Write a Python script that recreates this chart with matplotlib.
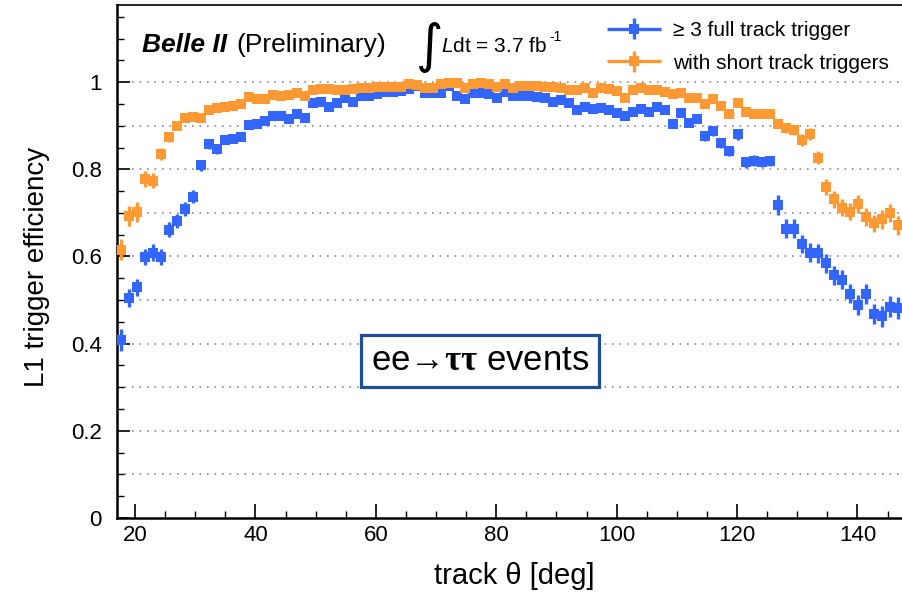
import numpy as np
import matplotlib
matplotlib.use('Agg')
import matplotlib.pyplot as plt
from matplotlib.ticker import MultipleLocator
from matplotlib.container import ErrorbarContainer
from matplotlib.legend_handler import HandlerErrorbar

# Helvetica-like fonts
plt.rcParams['font.family'] = ['Liberation Sans', 'DejaVu Sans']
plt.rcParams['mathtext.fontset'] = 'custom'
plt.rcParams['mathtext.rm'] = 'Liberation Sans'
plt.rcParams['mathtext.it'] = 'Liberation Sans:italic'
plt.rcParams['mathtext.bf'] = 'Liberation Serif:bold'
plt.rcParams['figure.dpi'] = 100

# histogram binning in track theta [deg]
theta_min = 17.0
bin_width = 1.33

# >= 3 full track trigger
eff_full = [0.409, 0.505, 0.529, 0.599, 0.609, 0.599, 0.661, 0.682, 0.710, 0.737,
            0.809, 0.857, 0.846, 0.868, 0.869, 0.873, 0.902, 0.905, 0.910, 0.923,
            0.922, 0.915, 0.926, 0.917, 0.953, 0.954, 0.944, 0.953, 0.964, 0.954,
            0.969, 0.969, 0.973, 0.977, 0.977, 0.979, 0.985, 0.991, 0.976, 0.976,
            0.976, 0.991, 0.969, 0.962, 0.974, 0.974, 0.973, 0.964, 0.977, 0.968,
            0.968, 0.969, 0.966, 0.963, 0.954, 0.960, 0.953, 0.936, 0.944, 0.939,
            0.941, 0.935, 0.930, 0.922, 0.931, 0.939, 0.932, 0.944, 0.935, 0.905,
            0.930, 0.907, 0.916, 0.876, 0.888, 0.861, 0.842, 0.880, 0.816, 0.820,
            0.817, 0.819, 0.718, 0.664, 0.664, 0.628, 0.609, 0.607, 0.584, 0.557,
            0.547, 0.515, 0.489, 0.515, 0.468, 0.463, 0.485, 0.482]
err_full = [0.025, 0.020, 0.020, 0.019, 0.019, 0.019, 0.017, 0.016, 0.016, 0.015,
            0.012, 0.011, 0.011, 0.009, 0.008, 0.008, 0.008, 0.008, 0.008, 0.007,
            0.007, 0.007, 0.007, 0.007, 0.006, 0.006, 0.006, 0.006, 0.005, 0.005,
            0.005, 0.005, 0.005, 0.005, 0.005, 0.005, 0.005, 0.005, 0.005, 0.005,
            0.005, 0.005, 0.005, 0.005, 0.005, 0.005, 0.005, 0.005, 0.005, 0.005,
            0.005, 0.005, 0.005, 0.005, 0.006, 0.006, 0.006, 0.006, 0.006, 0.006,
            0.006, 0.006, 0.006, 0.007, 0.007, 0.007, 0.007, 0.007, 0.008, 0.010,
            0.010, 0.010, 0.010, 0.011, 0.011, 0.011, 0.012, 0.012, 0.012, 0.012,
            0.012, 0.012, 0.022, 0.021, 0.021, 0.021, 0.021, 0.021, 0.022, 0.022,
            0.022, 0.022, 0.023, 0.023, 0.024, 0.024, 0.024, 0.025]

# with short track triggers
eff_short = [0.616, 0.692, 0.703, 0.778, 0.774, 0.836, 0.874, 0.899, 0.917, 0.921,
             0.918, 0.937, 0.940, 0.943, 0.946, 0.951, 0.966, 0.961, 0.961, 0.971,
             0.969, 0.970, 0.975, 0.969, 0.981, 0.985, 0.985, 0.982, 0.983, 0.984,
             0.986, 0.986, 0.989, 0.989, 0.990, 0.990, 0.995, 0.993, 0.987, 0.987,
             0.995, 0.998, 0.997, 0.987, 0.995, 0.997, 0.995, 0.989, 0.996, 0.987,
             0.991, 0.991, 0.991, 0.989, 0.989, 0.987, 0.982, 0.983, 0.987, 0.976,
             0.987, 0.985, 0.979, 0.964, 0.982, 0.987, 0.982, 0.982, 0.977, 0.972,
             0.974, 0.964, 0.964, 0.949, 0.962, 0.945, 0.926, 0.953, 0.932, 0.926,
             0.926, 0.928, 0.905, 0.894, 0.890, 0.868, 0.881, 0.827, 0.760, 0.731,
             0.712, 0.703, 0.720, 0.691, 0.676, 0.685, 0.700, 0.672]
err_short = [0.025, 0.023, 0.023, 0.018, 0.018, 0.014, 0.011, 0.009, 0.008, 0.007,
             0.007, 0.006, 0.006, 0.006, 0.006, 0.005, 0.005, 0.005, 0.005, 0.004,
             0.004, 0.004, 0.004, 0.004, 0.004, 0.004, 0.004, 0.004, 0.004, 0.004,
             0.004, 0.004, 0.004, 0.004, 0.004, 0.004, 0.004, 0.004, 0.004, 0.004,
             0.004, 0.004, 0.004, 0.004, 0.004, 0.004, 0.004, 0.004, 0.004, 0.004,
             0.004, 0.004, 0.004, 0.004, 0.004, 0.004, 0.004, 0.004, 0.004, 0.004,
             0.004, 0.004, 0.004, 0.005, 0.005, 0.005, 0.005, 0.005, 0.005, 0.006,
             0.006, 0.006, 0.006, 0.007, 0.007, 0.008, 0.008, 0.008, 0.009, 0.009,
             0.009, 0.009, 0.010, 0.011, 0.011, 0.014, 0.014, 0.015, 0.018, 0.019,
             0.019, 0.019, 0.020, 0.020, 0.020, 0.021, 0.021, 0.022]

labels = ['\u2265 3 full track trigger', 'with short track triggers']
colors = ['#3366ff', '#ff9933']

theta = theta_min + bin_width * (np.arange(len(eff_full)) + 0.5)

fig = plt.figure(figsize=(9.02, 5.93))
ax = fig.add_axes([117 / 902, 75 / 593, 785 / 902, 513 / 593])

# dotted grid lines every 0.1
for g in np.arange(0.1, 1.05, 0.1):
    ax.axhline(g, color='#8a8a8a', lw=1.2, ls=(0, (1, 3.5)), zorder=0)

for eff, err, lab, col in zip([eff_full, eff_short], [err_full, err_short], labels, colors):
    ax.errorbar(theta, eff, xerr=bin_width / 2, yerr=err, fmt='s', color=col,
                ms=7.2, mew=0, elinewidth=2.4, capsize=0, label=lab, zorder=3)

ax.set_xlim(17.0, 147.4)
ax.set_ylim(0, 1.177)
ax.xaxis.set_major_locator(MultipleLocator(20))
ax.xaxis.set_minor_locator(MultipleLocator(5))
ax.yaxis.set_major_locator(MultipleLocator(0.2))
ax.yaxis.set_minor_locator(MultipleLocator(0.05))
ax.yaxis.set_major_formatter(plt.FuncFormatter(lambda v, p: '%g' % round(v, 2)))
ax.tick_params(which='both', direction='in', top=False, right=False, labelsize=16)
ax.tick_params(axis='x', which='major', length=10, width=1.2, pad=5)
ax.tick_params(axis='x', which='minor', length=5, width=1.0)
ax.tick_params(axis='y', which='major', length=9, width=1.2, pad=11)
ax.tick_params(axis='y', which='minor', length=5, width=1.0)
ax.spines['right'].set_visible(False)
ax.spines['left'].set_linewidth(1.8)
ax.spines['bottom'].set_linewidth(1.8)
ax.spines['top'].set_linewidth(1.2)

# axis titles
fig.text(37 / 902, 1 - 267 / 593, 'L1 trigger efficiency', rotation=90,
         ha='center', va='center', fontsize=20)
fig.text(514 / 902, 1 - 576 / 593, 'track \u03b8 [deg]', ha='center', va='center', fontsize=21)

# labels on top
fig.text(142 / 902, 1 - 52 / 593, 'Belle II', fontsize=19, fontweight='bold',
         fontstyle='italic', va='baseline')
fig.text(236 / 902, 1 - 52 / 593, '(Preliminary)', fontsize=19, va='baseline')
fig.text(416 / 902, 1 - 47 / 593, '\u222b', fontsize=38, va='center',
         family='DejaVu Sans')
fig.text(441 / 902, 1 - 52 / 593, r'$L$dt = 3.7 fb', fontsize=15, va='baseline')
fig.text(549 / 902, 1 - 41 / 593, '-1', fontsize=10, va='baseline')

ax.legend(loc='upper left', bbox_to_anchor=(606 / 902, 1 - 21 / 593),
          bbox_transform=fig.transFigure, frameon=False, fontsize=15,
          handlelength=2.7, handletextpad=0.5, borderpad=0, borderaxespad=0,
          labelspacing=0.65,
          handler_map={ErrorbarContainer: HandlerErrorbar(xerr_size=1.3, yerr_size=0.5)})

fig.text(480 / 902, 1 - 361 / 593, 'ee\u2192$\\mathbf{\\tau\\tau}$ events',
         ha='center', va='center', fontsize=25,
         bbox=dict(boxstyle='square,pad=0.28', fc='white', ec='#1f4e9c', lw=2.3))

fig.savefig('out.png', dpi=100)
